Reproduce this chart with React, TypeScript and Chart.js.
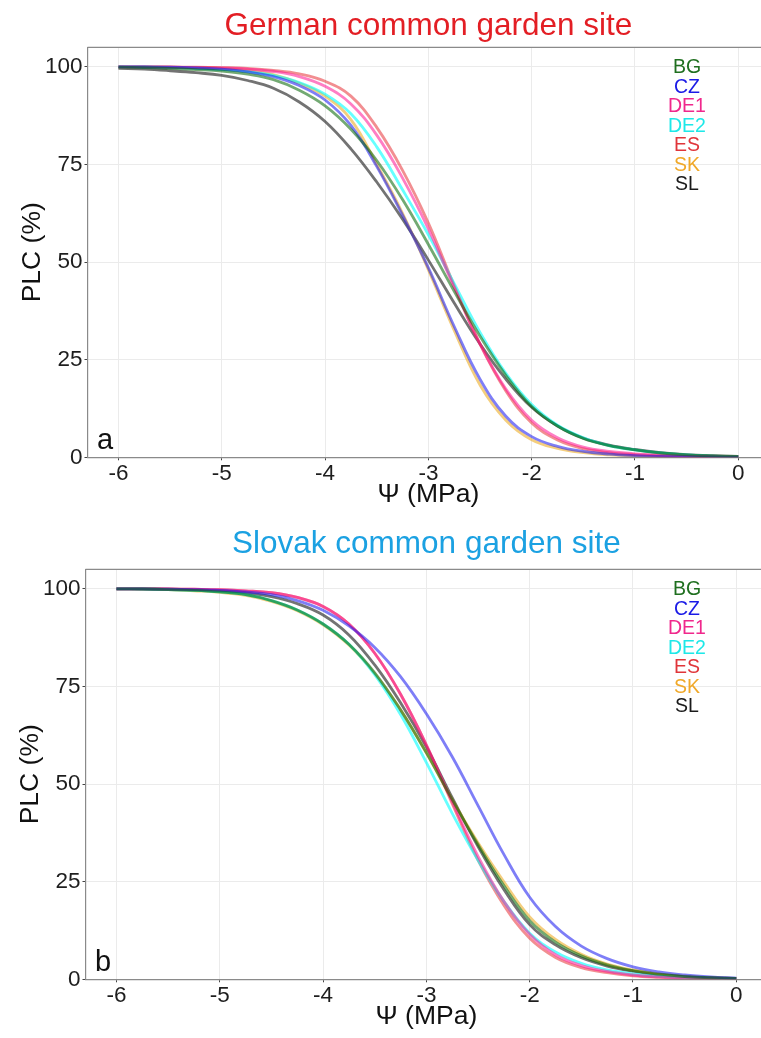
import React, { useEffect, useRef } from "react";
import { Chart, registerables } from "chart.js";

Chart.register(...registerables);

// ---- data ----
const PSI = [-6, -5.75, -5.5, -5.25, -5, -4.75, -4.5, -4.25, -4, -3.75, -3.5, -3.25, -3, -2.75, -2.5, -2.25, -2, -1.75, -1.5, -1.25, -1, -0.75, -0.5, -0.25, 0];
const X_TICKS = [-6, -5, -4, -3, -2, -1, 0];
const Y_TICKS = [0, 25, 50, 75, 100];
const POPULATIONS = ["BG", "CZ", "DE1", "DE2", "ES", "SK", "SL"];

// German common garden site
const G_BG = [99.9, 99.8, 99.6, 99.3, 98.9, 98.1, 96.7, 94, 90, 84, 76, 66, 54.5, 42.5, 31, 21, 13, 8, 4.8, 3.0, 1.9, 1.1, 0.6, 0.35, 0.2];
const G_CZ = [100, 99.95, 99.9, 99.7, 99.4, 98.7, 97.5, 95.2, 91.5, 85, 74.5, 62, 48.5, 33.5, 20, 10.5, 5.3, 2.8, 1.5, 0.8, 0.45, 0.25, 0.15, 0.08, 0.05];
const G_DE1 = [100, 100, 99.9, 99.8, 99.7, 99.4, 98.8, 97.5, 95, 90.5, 82.5, 71.5, 58.5, 43.5, 29, 17.5, 9.5, 5, 2.6, 1.5, 0.9, 0.55, 0.3, 0.15, 0.1];
const G_DE2 = [100, 99.95, 99.8, 99.6, 99.3, 98.8, 97.8, 96, 93, 88, 79.5, 68.5, 57, 44.5, 32, 21.5, 13.5, 8.2, 5, 3.0, 1.9, 1.1, 0.6, 0.3, 0.15];
const G_ES = [100, 100, 99.95, 99.9, 99.8, 99.6, 99.1, 98.2, 96.3, 92.5, 84.5, 73.5, 60, 44, 29, 17, 8.8, 4.4, 2.2, 1.2, 0.7, 0.4, 0.2, 0.1, 0.05];
const G_SK = [100, 99.95, 99.9, 99.8, 99.6, 99.0, 98, 95.8, 92.5, 86.5, 75, 62.5, 48, 32.5, 18.5, 9.5, 4.5, 2.3, 1.2, 0.6, 0.3, 0.15, 0.1, 0.05, 0.03];
const G_SL = [99.6, 99.4, 99.0, 98.5, 97.8, 96.5, 94.5, 91, 86, 79, 70.5, 61, 50.5, 39.5, 29, 20, 12.8, 8, 4.9, 3.1, 2.0, 1.2, 0.7, 0.4, 0.2];

// Slovak common garden site
const S_BG = [100, 99.95, 99.8, 99.6, 99.2, 98.5, 97, 94.6, 91, 85.8, 78.5, 69, 58, 46, 34.5, 24, 15, 9.5, 6, 3.7, 2.2, 1.3, 0.7, 0.4, 0.2];
const S_CZ = [100, 99.98, 99.9, 99.8, 99.6, 99.2, 98.5, 97, 94.5, 90.5, 85, 77.5, 68, 57, 44.5, 32, 21, 13.5, 8.5, 5.3, 3.2, 1.9, 1.1, 0.6, 0.3];
const S_DE1 = [100, 100, 99.95, 99.9, 99.8, 99.5, 99, 97.8, 95.5, 91, 83.5, 73, 60, 45.5, 31.5, 20, 11.5, 6.3, 3.5, 2, 1.1, 0.6, 0.35, 0.2, 0.1];
const S_DE2 = [100, 99.95, 99.8, 99.6, 99.2, 98.5, 97, 94.6, 91, 85.8, 78, 67.8, 55.5, 42.5, 30.5, 20, 11.8, 7, 4.1, 2.4, 1.4, 0.8, 0.45, 0.25, 0.1];
const S_ES = [100, 100, 99.95, 99.9, 99.8, 99.5, 99, 97.8, 95.5, 91, 83.5, 73, 60, 45, 30.5, 19, 10.5, 5.6, 3.0, 1.7, 0.9, 0.5, 0.25, 0.12, 0.08];
const S_SK = [100, 99.95, 99.8, 99.5, 99.1, 98.3, 96.8, 94.4, 90.8, 85.6, 78.3, 69, 58, 46, 35, 25, 16, 10.2, 6.4, 3.9, 2.4, 1.4, 0.8, 0.4, 0.2];
const S_SL = [100, 99.98, 99.9, 99.75, 99.5, 99, 98, 96.2, 93.3, 88.2, 80.5, 70.8, 59.5, 46.5, 34, 23, 14, 8.8, 5.5, 3.4, 2.1, 1.2, 0.7, 0.4, 0.2];

const LINE_COLORS = [
  "rgba(0,100,0,0.55)",
  "rgba(20,20,240,0.55)",
  "rgba(255,20,147,0.55)",
  "rgba(0,255,255,0.6)",
  "rgba(230,30,35,0.5)",
  "rgba(235,166,20,0.55)",
  "rgba(0,0,0,0.55)",
];
const TEXT_COLORS = ["#1f6f1f", "#1a1ae6", "#f0288c", "#1ee8e8", "#e0353a", "#f0a828", "#1a1a1a"];

const FONT = '"Liberation Sans", Arial, Helvetica, sans-serif';
const CANVAS_W = 800;
const CANVAS_H = 516;
const AREA_TOP = 47.3;
const AREA_BOTTOM = 457.3;
const PX_PER_UNIT = 103.3;

type PanelProps = {
  title: string;
  titleColor: string;
  letter: string;
  series: number[][];
  areaLeft: number;
  top: number;
  titleBaseline: number;
};

function Panel({ title, titleColor, letter, series, areaLeft, top, titleBaseline }: PanelProps) {
  const ref = useRef<HTMLCanvasElement>(null);

  useEffect(() => {
    if (!ref.current) return;
    const areaRight = areaLeft + PX_PER_UNIT * 6.6;

    const overlay = {
      id: "overlay",
      afterDraw(chart: any) {
        const { ctx, chartArea: ca } = chart;
        ctx.save();
        // top border of panel
        ctx.strokeStyle = "#8a8a8a";
        ctx.lineWidth = 1.2;
        ctx.beginPath();
        ctx.moveTo(ca.left, ca.top);
        ctx.lineTo(ca.right, ca.top);
        ctx.stroke();

        // title
        ctx.fillStyle = titleColor;
        ctx.font = `31.5px ${FONT}`;
        ctx.textAlign = "center";
        ctx.textBaseline = "alphabetic";
        ctx.fillText(title, (ca.left + ca.right) / 2, titleBaseline);

        // axis titles
        ctx.fillStyle = "#111";
        ctx.font = `26.5px ${FONT}`;
        ctx.fillText("\u03A8 (MPa)", (ca.left + ca.right) / 2, 502);
        ctx.save();
        ctx.translate(ca.left - 47.5, (ca.top + ca.bottom) / 2);
        ctx.rotate(-Math.PI / 2);
        ctx.fillText("PLC (%)", 0, 0);
        ctx.restore();

        // panel letter
        ctx.textAlign = "left";
        ctx.font = `29px ${FONT}`;
        ctx.fillStyle = "#111";
        ctx.fillText(letter, ca.left + 9.5, 449);

        // legend labels
        ctx.font = `19.5px ${FONT}`;
        ctx.textAlign = "center";
        ctx.textBaseline = "middle";
        POPULATIONS.forEach((p, i) => {
          ctx.fillStyle = TEXT_COLORS[i];
          ctx.fillText(p, 687, 68 + i * 19.45);
        });
        ctx.restore();
      },
    };

    const chart = new Chart(ref.current, {
      type: "line",
      data: {
        datasets: POPULATIONS.map((p, i) => ({
          label: p,
          data: PSI.map((x, j) => ({ x, y: series[i][j] })),
          borderColor: LINE_COLORS[i],
          backgroundColor: LINE_COLORS[i],
          borderWidth: 2.8,
          pointRadius: 0,
          fill: false,
          tension: 0.4,
        })),
      },
      options: {
        animation: false,
        responsive: false,
        devicePixelRatio: 1,
        layout: {
          padding: { left: 0, top: AREA_TOP, right: CANVAS_W - areaRight, bottom: 0 },
        },
        plugins: {
          legend: { display: false },
          title: { display: false },
          tooltip: { enabled: false },
        },
        scales: {
          x: {
            type: "linear",
            min: -6.3,
            max: 0.3,
            afterBuildTicks: (s: any) => {
              s.ticks = X_TICKS.map((v) => ({ value: v }));
            },
            afterFit: (s: any) => {
              s.height = CANVAS_H - AREA_BOTTOM;
            },
            grid: { color: "#ebebeb", lineWidth: 1, tickLength: 3, tickColor: "#444", drawTicks: true },
            border: { display: true, color: "#8a8a8a", width: 1.2 },
            ticks: {
              font: { family: FONT, size: 22.5 },
              color: "#1e1e1e",
              padding: 0,
              maxRotation: 0,
              callback: (v: any) => String(v),
            },
          },
          y: {
            type: "linear",
            min: 0,
            max: 105,
            afterBuildTicks: (s: any) => {
              s.ticks = Y_TICKS.map((v) => ({ value: v }));
            },
            afterFit: (s: any) => {
              s.width = areaLeft;
            },
            grid: { color: "#ebebeb", lineWidth: 1, tickLength: 3, tickColor: "#444", drawTicks: true },
            border: { display: true, color: "#8a8a8a", width: 1.2 },
            ticks: {
              font: { family: FONT, size: 22.5 },
              color: "#1e1e1e",
              padding: 2,
              callback: (v: any) => String(v),
            },
          },
        },
      },
      plugins: [overlay],
    });
    return () => chart.destroy();
  }, []);

  return (
    <canvas
      ref={ref}
      width={CANVAS_W}
      height={CANVAS_H}
      style={{ position: "absolute", left: 0, top, width: CANVAS_W, height: CANVAS_H }}
    />
  );
}

export default function App() {
  return (
    <div
      style={{
        position: "absolute",
        left: 0,
        top: 0,
        width: 761,
        height: 1038,
        overflow: "hidden",
        background: "#fff",
      }}
    >
      <Panel
        title="German common garden site"
        titleColor="#e31e24"
        letter="a"
        series={[G_BG, G_CZ, G_DE1, G_DE2, G_ES, G_SK, G_SL]}
        areaLeft={87.5}
        top={0}
        titleBaseline={35}
      />
      <Panel
        title="Slovak common garden site"
        titleColor="#1ba1e2"
        letter="b"
        series={[S_BG, S_CZ, S_DE1, S_DE2, S_ES, S_SK, S_SL]}
        areaLeft={85.5}
        top={522}
        titleBaseline={30.5}
      />
    </div>
  );
}
